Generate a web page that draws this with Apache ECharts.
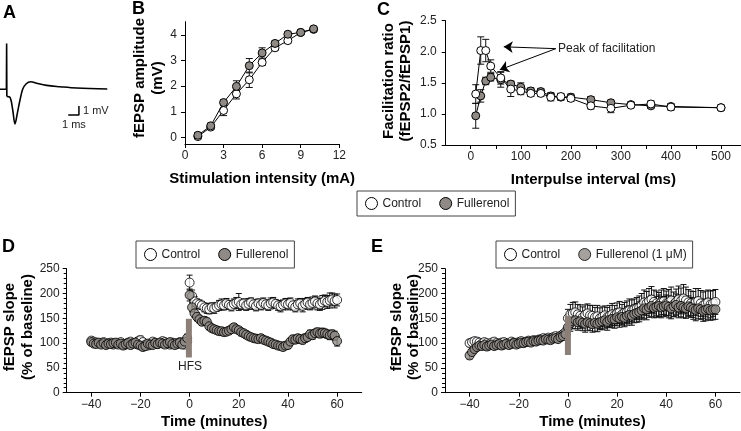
<!DOCTYPE html>
<html><head><meta charset="utf-8">
<script src="https://cdn.jsdelivr.net/npm/echarts@6/dist/echarts.min.js"></script>
<style>html,body{margin:0;padding:0;background:#fff}#c{width:741px;height:431px}</style>
</head><body><div id="c"></div>
<script>
// ---------- Panel A: example fEPSP trace (ms, mV) ----------
const spikeMs = [0, 0.60, 0.62, 0.64];
const spikeMv = [0, 0, 5.1, -0.8];
const waveMs = [0.64, 0.94, 1.19, 1.40, 1.62, 1.87, 2.12, 2.43, 2.87, 3.43, 4.36, 5.61, 7.17, 10.03];
const waveMv = [-0.8, -0.89, -2.3, -3.84, -2.67, -1.19, 0, 0.59, 0.84, 0.67, 0.44, 0.29, 0.14, 0.03];
const scaleBarMs = [6.38, 7.38, 7.38];
const scaleBarMv = [-2.86, -2.86, -1.86];

// ---------- Panel B: input-output ----------
const bIntensity = [1, 2, 3, 4, 5, 6, 7, 8, 9, 10];
const bControl = [0.03, 0.40, 1.05, 1.70, 2.25, 2.93, 3.50, 3.78, 4.10, 4.22];
const bControlErr = [0.08, 0.08, 0.2, 0.2, 0.3, 0.12, 0.1, 0.1, 0.06, 0.06];
const bFull = [0.08, 0.45, 1.36, 1.99, 2.80, 3.30, 3.67, 4.03, 4.10, 4.24];
const bFullErr = [0.1, 0.08, 0.1, 0.22, 0.28, 0.2, 0.1, 0.08, 0.06, 0.06];

// ---------- Panel C: paired-pulse facilitation ----------
const cInterval = [10, 20, 30, 40, 60, 80, 100, 120, 140, 160, 180, 200, 240, 280, 320, 360, 400, 500];
const cControl = [1.32, 2.02, 2.02, 1.77, 1.58, 1.40, 1.37, 1.33, 1.33, 1.27, 1.28, 1.25, 1.13, 1.09, 1.14, 1.16, 1.11, 1.10];
const cControlErr = [0.15, 0.22, 0.18, 0.1, 0.1, 0.12, 0.06, 0.05, 0.05, 0.06, 0.05, 0.05, 0.05, 0.07, 0.04, 0.05, 0.05, 0.04];
const cFull = [0.97, 1.29, 1.53, 1.59, 1.55, 1.48, 1.43, 1.37, 1.36, 1.29, 1.27, 1.27, 1.23, 1.18, 1.15, 1.13, 1.12, 1.10];
const cFullErr = [0.2, 0.1, 0.06, 0.06, 0.12, 0.05, 0.07, 0.05, 0.05, 0.05, 0.05, 0.05, 0.05, 0.04, 0.04, 0.04, 0.04, 0.04];
const peakText = 'Peak of facilitation';
const arrowFrom = [170, 2.05];
const arrowTo1 = [66, 2.08];
const arrowTo2 = [58, 1.71];

// ---------- Panels D & E: time course (minutes) ----------
const timeMin = [-40,-39,-38,-37,-36,-35,-34,-33,-32,-31,-30,-29,-28,-27,-26,-25,-24,-23,-22,-21,-20,-19,-18,-17,-16,-15,-14,-13,-12,-11,-10,-9,-8,-7,-6,-5,-4,-3,-2,-1,0,1,2,3,4,5,6,7,8,9,10,11,12,13,14,15,16,17,18,19,20,21,22,23,24,25,26,27,28,29,30,31,32,33,34,35,36,37,38,39,40,41,42,43,44,45,46,47,48,49,50,51,52,53,54,55,56,57,58,59,60];

const dControl = [
105,103,101,100,99,102,98,100,101,97,
99,100,102,98,97,101,103,100,99,104,
106,102,97,95,99,103,101,98,100,104,
102,99,97,101,100,98,102,99,97,103,
222,195,184,180,178,176,172,170,168,172,
170,173,176,178,176,180,177,175,179,181,
183,178,180,176,179,182,178,175,180,177,
181,178,176,180,182,179,176,174,177,180,
178,181,176,173,178,180,175,179,182,178,
181,184,180,178,182,185,183,186,188,185,
187];
const dControlErr = [
6,5,7,6,5,6,7,5,6,6, 5,7,6,5,6,7,6,5,6,7, 8,6,5,7,6,6,5,7,6,6, 5,6,7,6,5,6,7,6,5,6,
15,12,10,9,9,8,9,10,9,9, 10,9,10,11,9,10,9,10,10,11, 17,10,9,10,11,9,10,10,9,10,
10,9,10,11,10,9,10,11,10,10, 11,10,9,10,11,10,12,11,10,11, 12,11,13,12,14,12,13,15,13,14, 12];
const dFull = [
102,99,98,101,97,100,96,99,98,100,
101,97,99,95,98,100,96,99,101,97,
95,92,94,99,97,96,100,98,101,99,
97,100,102,98,96,99,101,97,103,110,
197,172,160,153,148,143,145,143,134,130,
128,126,124,124,122,123,125,128,132,128,
126,122,120,117,114,112,110,109,108,110,
107,105,103,101,98,97,95,94,92,95,
96,103,108,107,110,108,106,110,112,118,
116,120,122,119,121,120,118,116,118,115,
104];
const dFullErr = [
6,5,6,7,5,6,6,5,7,6, 6,5,6,7,6,5,6,6,5,7, 6,7,6,5,6,6,7,5,6,6, 5,6,6,7,5,6,6,5,7,8,
12,9,8,8,7,7,8,7,7,6, 7,6,7,6,7,6,7,6,7,6, 6,7,6,7,6,7,6,7,6,7,
6,7,6,7,6,7,6,7,6,7, 7,6,7,8,7,8,7,8,7,8, 8,7,8,8,9,8,8,9,8,9, 10];

const eControl = [
100,102,104,103,101,99,102,100,98,101,
103,100,99,101,102,98,100,103,101,100,
102,104,101,103,105,104,106,105,107,108,
110,108,111,109,112,114,112,115,118,122,
150,158,160,162,158,155,152,157,160,156,
155,152,154,150,153,156,152,155,158,156,
160,162,158,161,163,166,165,168,170,172,
176,182,180,185,188,183,180,178,182,184,
180,182,186,178,183,188,185,190,186,182,
180,178,183,185,180,176,179,182,178,180,
183];
const eControlErr = [
7,6,6,7,6,5,6,6,7,6, 6,5,6,6,7,6,5,6,6,7, 6,6,7,6,5,6,7,6,6,7, 6,7,6,6,7,6,7,6,7,8,
18,20,22,21,20,22,21,20,19,20, 21,20,22,21,20,19,20,21,22,20, 21,22,20,21,22,23,22,21,22,23,
24,25,24,25,26,24,25,24,25,26, 25,26,27,25,26,27,26,28,27,26, 25,26,27,25,26,27,26,25,27,26, 25];
const eFull = [
75,82,88,92,95,94,96,93,95,97,
94,96,98,95,97,99,96,98,100,97,
99,101,100,102,103,101,104,103,105,106,
105,108,107,106,109,110,108,112,114,118,
132,140,144,146,142,144,141,139,142,140,
138,141,139,142,144,146,143,147,149,148,
152,150,153,151,155,157,155,159,161,163,
166,170,168,172,175,171,173,175,172,174,
176,173,170,174,177,172,175,172,170,174,
172,169,167,170,168,165,167,169,166,168,
168];
const eFullErr = [
7,6,6,7,5,6,6,7,6,5, 6,6,5,7,6,6,5,6,7,6, 6,5,6,6,7,6,6,5,6,7, 6,6,7,6,6,7,6,7,7,8,
15,16,15,17,16,15,16,17,16,15, 16,17,16,15,17,16,17,16,17,18, 17,18,17,18,19,18,19,18,19,20,
19,20,21,20,21,20,21,22,21,20, 21,22,21,20,22,21,22,21,20,21, 20,21,22,21,20,21,22,21,20,21, 20];

// HFS marker bars (time, low, high)
const hfsD = { t: [-0.3], lo: [71], hi: [149] };
const hfsE = { t: [0], lo: [76], hi: [155] };

// Tick values
const bYTicks = [0, 1, 2, 3, 4];
const cXTicks = [0, 50, 100, 150, 200, 250, 300, 350, 400, 450, 500];
const cXLabels = [0, 100, 200, 300, 400, 500];
const timeTicks = [-40, -20, 0, 20, 40, 60];

// ---------- styling ----------
const FONT = '"Liberation Sans", Arial, Helvetica, sans-serif';
const GRAY = '#8f8a85';
const HFS_COLOR = '#8b7f77';

function pairs(xs, ys) { return xs.map((x, i) => [x, ys[i]]); }

function errSeries(xi, xs, vals, errs, capHalf) {
  return {
    type: 'custom', xAxisIndex: xi, yAxisIndex: xi, z: 2, silent: true,
    data: xs.map((x, i) => [x, vals[i] - errs[i], vals[i] + errs[i]]),
    renderItem: (params, api) => {
      const x = api.value(0);
      const lo = api.coord([x, api.value(1)]);
      const hi = api.coord([x, api.value(2)]);
      const st = { stroke: '#111', lineWidth: 1 };
      return { type: 'group', children: [
        { type: 'line', shape: { x1: lo[0], y1: lo[1], x2: hi[0], y2: hi[1] }, style: st },
        { type: 'line', shape: { x1: lo[0] - capHalf, y1: lo[1], x2: lo[0] + capHalf, y2: lo[1] }, style: st },
        { type: 'line', shape: { x1: hi[0] - capHalf, y1: hi[1], x2: hi[0] + capHalf, y2: hi[1] }, style: st }
      ]};
    }
  };
}

function hfsSeries(xi, h) {
  return {
    type: 'custom', xAxisIndex: xi, yAxisIndex: xi, z: 6, silent: true,
    data: h.t.map((t, i) => [t, h.lo[i], h.hi[i]]),
    renderItem: (params, api) => {
      const t = api.value(0);
      const lo = api.coord([t, api.value(1)]);
      const hi = api.coord([t, api.value(2)]);
      return { type: 'rect', shape: { x: lo[0] - 3, y: hi[1], width: 6, height: lo[1] - hi[1] }, style: { fill: HFS_COLOR } };
    }
  };
}

function baseAxis(extra) {
  return Object.assign({
    type: 'value',
    axisLine: { show: true, onZero: false, lineStyle: { color: '#000', width: 1 } },
    axisTick: { show: true, length: 4, lineStyle: { color: '#000', width: 1 } },
    axisLabel: { color: '#222', fontSize: 12, fontFamily: FONT },
    splitLine: { show: false },
    nameTextStyle: { fontWeight: 'bold', fontSize: 15, color: '#000', fontFamily: FONT }
  }, extra);
}
const minus = v => String(v).replace('-', '\u2212');

const legendItem = (name, fill) => ({ name, icon: 'circle', itemStyle: { color: fill, borderColor: '#000', borderWidth: 1 } });
function legendAt(left, top, names, pad) {
  return {
    left, top, orient: 'horizontal', selectedMode: false,
    padding: pad, itemGap: 18, itemWidth: 12, itemHeight: 12,
    borderColor: '#444', borderWidth: 1,
    textStyle: { fontSize: 12, color: '#222', fontFamily: FONT },
    data: [legendItem(names[0], '#fff'), legendItem(names[1], GRAY)]
  };
}

const sym = (fill, size) => ({ symbol: 'circle', symbolSize: size, itemStyle: { color: fill, borderColor: '#000', borderWidth: 1 } });

const chart = echarts.init(document.getElementById('c'), null, { renderer: 'canvas' });
chart.setOption({
  animation: false,
  backgroundColor: '#fff',
  textStyle: { fontFamily: FONT },
  grid: [
    { left: 0, right: 630.3, top: 30, height: 100, outerBoundsMode: 'none' },          // A
    { left: 185, right: 401.7, top: 21.7, bottom: 287, outerBoundsMode: 'none' },      // B
    { left: 445.7, right: 0, top: 20.7, bottom: 286, outerBoundsMode: 'none' },        // C
    { left: 66.7, right: 379.3, top: 268.7, bottom: 38.3, outerBoundsMode: 'none' },   // D
    { left: 445, right: 1, top: 268.7, bottom: 38.3, outerBoundsMode: 'none' }         // E
  ],
  xAxis: [
    { type: 'value', gridIndex: 0, min: 0, max: 10.35, show: false },
    baseAxis({ gridIndex: 1, min: 0, max: 12, interval: 3, name: 'Stimulation intensity (mA)', nameLocation: 'middle', nameGap: 27,
      axisLabel: { color: '#222', fontSize: 12, fontFamily: FONT, margin: 6 } }),
    baseAxis({ gridIndex: 2, min: -50, max: 540, name: 'Interpulse interval (ms)', nameLocation: 'middle', nameGap: 27,
      axisTick: { show: true, length: 4, lineStyle: { color: '#000' }, customValues: cXTicks },
      axisLabel: { color: '#222', fontSize: 12, fontFamily: FONT, margin: 6, customValues: cXLabels } }),
    baseAxis({ gridIndex: 3, min: -50, max: 70, name: 'Time (minutes)', nameLocation: 'middle', nameGap: 22,
      axisTick: { show: true, length: 4, lineStyle: { color: '#000' }, customValues: timeTicks },
      axisLabel: { color: '#222', fontSize: 12, fontFamily: FONT, margin: 6, customValues: timeTicks, formatter: minus } }),
    baseAxis({ gridIndex: 4, min: -50, max: 70, name: 'Time (minutes)', nameLocation: 'middle', nameGap: 22,
      axisTick: { show: true, length: 4, lineStyle: { color: '#000' }, customValues: timeTicks },
      axisLabel: { color: '#222', fontSize: 12, fontFamily: FONT, margin: 6, customValues: timeTicks, formatter: minus } })
  ],
  yAxis: [
    { type: 'value', gridIndex: 0, min: -4.52, max: 6.59, show: false },
    baseAxis({ gridIndex: 1, min: -0.26, max: 4.52,
      axisTick: { show: true, length: 4, lineStyle: { color: '#000' }, customValues: bYTicks },
      axisLabel: { color: '#222', fontSize: 12, fontFamily: FONT, margin: 8, customValues: bYTicks } }),
    baseAxis({ gridIndex: 2, min: 0.5, max: 2.5, interval: 0.5,
      axisLabel: { color: '#222', fontSize: 12, fontFamily: FONT, margin: 9, formatter: v => v.toFixed(1) } }),
    baseAxis({ gridIndex: 3, min: 0, max: 250, interval: 50,
      minorTick: { show: true, splitNumber: 5, length: 3, lineStyle: { color: '#000' } },
      axisLabel: { color: '#222', fontSize: 12, fontFamily: FONT, margin: 7 } }),
    baseAxis({ gridIndex: 4, min: 0, max: 250, interval: 50,
      minorTick: { show: true, splitNumber: 5, length: 3, lineStyle: { color: '#000' } },
      axisLabel: { color: '#222', fontSize: 12, fontFamily: FONT, margin: 7 } })
  ],
  legend: [
    legendAt(357, 191, ['Control', 'Fullerenol'], [6, 6, 6, 8]),
    legendAt(136, 241, ['Control', 'Fullerenol'], [7, 6, 7, 8]),
    legendAt(496, 241, ['Control', 'Fullerenol (1 \u03bcM)'], [7, 6, 7, 8])
  ],
  series: [
    // A
    { type: 'line', xAxisIndex: 0, yAxisIndex: 0, data: pairs(spikeMs, spikeMv), symbol: 'none', lineStyle: { color: '#000', width: 1.6 } },
    { type: 'line', xAxisIndex: 0, yAxisIndex: 0, data: pairs(waveMs, waveMv), symbol: 'none', smooth: 0.35, lineStyle: { color: '#000', width: 1.6 } },
    { type: 'line', xAxisIndex: 0, yAxisIndex: 0, data: pairs(scaleBarMs, scaleBarMv), symbol: 'none', lineStyle: { color: '#000', width: 1.5 } },
    // B
    errSeries(1, bIntensity, bControl, bControlErr, 3.5),
    errSeries(1, bIntensity, bFull, bFullErr, 3.5),
    Object.assign({ type: 'line', name: 'Control', xAxisIndex: 1, yAxisIndex: 1, z: 3, data: pairs(bIntensity, bControl),
      lineStyle: { color: '#000', width: 1 } }, sym('#fff', 8)),
    Object.assign({ type: 'line', name: 'Fullerenol', xAxisIndex: 1, yAxisIndex: 1, z: 4, data: pairs(bIntensity, bFull),
      lineStyle: { color: '#000', width: 1 } }, sym(GRAY, 8)),
    // C
    errSeries(2, cInterval, cControl, cControlErr, 3.5),
    errSeries(2, cInterval, cFull, cFullErr, 3.5),
    Object.assign({ type: 'line', name: 'Fullerenol', xAxisIndex: 2, yAxisIndex: 2, z: 3, data: pairs(cInterval, cFull),
      lineStyle: { color: '#000', width: 1 } }, sym(GRAY, 8)),
    Object.assign({ type: 'line', name: 'Control', xAxisIndex: 2, yAxisIndex: 2, z: 4, data: pairs(cInterval, cControl),
      lineStyle: { color: '#000', width: 1 },
      markLine: { silent: true, symbol: ['none', 'arrow'], symbolSize: 9, label: { show: false },
        lineStyle: { color: '#000', width: 1, type: 'solid' },
        data: [[{ coord: arrowFrom }, { coord: arrowTo1 }], [{ coord: arrowFrom }, { coord: arrowTo2 }]] } }, sym('#fff', 8)),
    // D
    errSeries(3, timeMin, dFull, dFullErr, 3),
    errSeries(3, timeMin, dControl, dControlErr, 3),
    Object.assign({ type: 'scatter', name: 'Control', xAxisIndex: 3, yAxisIndex: 3, z: 3, data: pairs(timeMin, dControl) }, sym('#fff', 9)),
    Object.assign({ type: 'scatter', name: 'Fullerenol', xAxisIndex: 3, yAxisIndex: 3, z: 4, data: pairs(timeMin, dFull) }, sym(GRAY, 9)),
    hfsSeries(3, hfsD),
    // E
    errSeries(4, timeMin, eFull, eFullErr, 3),
    errSeries(4, timeMin, eControl, eControlErr, 3),
    Object.assign({ type: 'scatter', name: 'Control', xAxisIndex: 4, yAxisIndex: 4, z: 3, data: pairs(timeMin, eControl) }, sym('#fff', 9)),
    Object.assign({ type: 'scatter', name: 'Fullerenol (1 \u03bcM)', xAxisIndex: 4, yAxisIndex: 4, z: 4, data: pairs(timeMin, eFull) }, sym(GRAY, 9)),
    hfsSeries(4, hfsE)
  ],
  graphic: [
    { type: 'text', x: 3, y: 4, style: { text: 'A', font: 'bold 18px ' + FONT, fill: '#000' } },
    { type: 'text', x: 132, y: 0, style: { text: 'B', font: 'bold 18px ' + FONT, fill: '#000' } },
    { type: 'text', x: 377, y: 1, style: { text: 'C', font: 'bold 18px ' + FONT, fill: '#000' } },
    { type: 'text', x: 2, y: 238, style: { text: 'D', font: 'bold 18px ' + FONT, fill: '#000' } },
    { type: 'text', x: 371, y: 238, style: { text: 'E', font: 'bold 18px ' + FONT, fill: '#000' } },
    { type: 'text', x: 149, y: 78, rotation: Math.PI / 2, style: { text: 'fEPSP amplitude\n(mV)', font: 'bold 15px ' + FONT, lineHeight: 18, fill: '#000', textAlign: 'center', textVerticalAlign: 'middle' } },
    { type: 'text', x: 397, y: 81, rotation: Math.PI / 2, style: { text: 'Facilitation ratio\n(fEPSP2/fEPSP1)', font: 'bold 15px ' + FONT, lineHeight: 17, fill: '#000', textAlign: 'center', textVerticalAlign: 'middle' } },
    { type: 'text', x: 19, y: 327, rotation: Math.PI / 2, style: { text: 'fEPSP slope\n(% of baseline)', font: 'bold 15px ' + FONT, lineHeight: 18, fill: '#000', textAlign: 'center', textVerticalAlign: 'middle' } },
    { type: 'text', x: 405, y: 327, rotation: Math.PI / 2, style: { text: 'fEPSP slope\n(% of baseline)', font: 'bold 15px ' + FONT, lineHeight: 17, fill: '#000', textAlign: 'center', textVerticalAlign: 'middle' } },
    { type: 'text', x: 83, y: 111, style: { text: '1 mV', font: '11px ' + FONT, fill: '#222', textVerticalAlign: 'middle' } },
    { type: 'text', x: 62, y: 125, style: { text: '1 ms', font: '11px ' + FONT, fill: '#222', textVerticalAlign: 'middle' } },
    { type: 'text', x: 190, y: 367, style: { text: 'HFS', font: '12px ' + FONT, fill: '#222', textAlign: 'center', textVerticalAlign: 'middle' } },
    { type: 'text', x: 558, y: 49, style: { text: peakText, font: '12px ' + FONT, fill: '#222', textVerticalAlign: 'middle' } }
  ]
});
</script>
</body></html>
